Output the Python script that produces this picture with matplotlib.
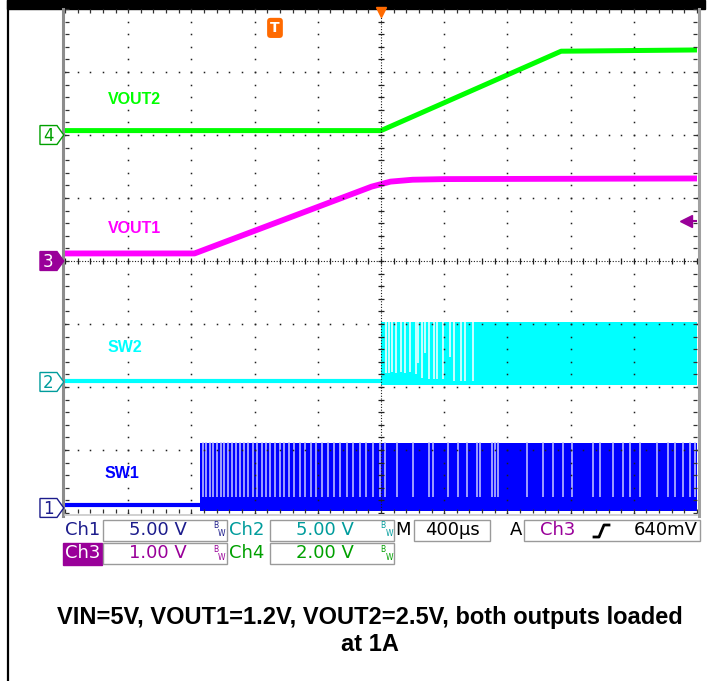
import numpy as np
import matplotlib.pyplot as plt
from matplotlib.patches import Rectangle, Polygon
from matplotlib.transforms import blended_transform_factory

# time in microseconds (400 us/div, trigger at 0), vertical in divisions
vout2_t = [-2000, 0, 1140, 2000]
vout2_v = [2.07, 2.07, 3.33, 3.35]

vout1_t = [-2000, -1180, -60, 60, 200, 400, 2000]
vout1_v = [0.12, 0.12, 1.18, 1.26, 1.29, 1.30, 1.31]

sw2_idle = -1.90
sw2_start = 0
sw2_low, sw2_high = -1.97, -0.97
sw2_gap_t = [32, 53, 72, 93, 127, 152, 184, 220, 236, 258, 278, 304, 335,
             356, 390, 437, 464, 504, 532, 580]
sw2_gap_bot = [-1.78, -1.78, -1.76, -1.78, -1.76, -1.78, -1.76, -1.80, -1.62,
               -1.85, -1.46, -1.88, -1.88, -1.88, -1.88, -1.52, -1.90, -1.90,
               -1.90, -1.90]

sw1_idle = -3.87
sw1_start = -1146
sw1_low, sw1_high = -3.97, -2.89
sw1_gap_t = [-1127, -1108, -1082, -1063, -1038, -1013, -994, -968, -943, -918,
             -893, -867, -842, -810, -785, -753, -728, -703, -671, -639, -614,
             -582, -551, -513, -481, -443, -411, -373, -335, -298, -260, -215,
             -177, -133, -95, -51, -6, 25, 101, 203, 304, 329, 424, 487, 544,
             608, 627, 703, 722, 741, 924, 1025, 1089, 1152, 1209, 1342, 1386,
             1468, 1532, 1576, 1639, 1747, 1817, 1861, 1912, 1956, 1987]
sw1_gap_bot = -3.75

channels = ['1', '2', '3', '4']
ch_offsets = [-3.92, -1.92, 0.0, 2.0]
trace_colors = ['#0000ff', '#00ffff', '#ff00ff', '#00ff00']
ch_colors = ['#1c1c8c', '#009c9c', '#990099', '#00a000']

trace_names = ['SW1', 'SW2', 'VOUT1', 'VOUT2']
name_t = [-1750, -1728, -1728, -1728]
name_v = [-3.37, -1.38, 0.52, 2.56]

trig_t = -671
trig_level = 0.64

scale_ch = ['Ch1', 'Ch2', 'Ch3', 'Ch4']
scale_txt = ['5.00 V', '5.00 V', '1.00 V', '2.00 V']
timebase = '400µs'
trig_txt = '640mV'

W, H = 710, 681
fig = plt.figure(figsize=(W / 100, H / 100), dpi=100)

# background layer in pixel units
bg = fig.add_axes([0, 0, 1, 1])
bg.set_xlim(0, W)
bg.set_ylim(H, 0)
bg.axis('off')
bg.add_patch(Rectangle((7, 0), 698, 8.5, color='black'))
bg.plot([8, 8], [0, H], color='black', lw=1.6)

# scope screen
ax = fig.add_axes([65 / W, 168 / H, 632 / W, 504 / H])
ax.set_xlim(-2000, 2000)
ax.set_ylim(-4, 4)
ax.axis('off')

# traces
ax.plot(vout2_t, vout2_v, color=trace_colors[3], lw=3.6, zorder=3)
ax.plot(vout1_t, vout1_v, color=trace_colors[2], lw=4.2, zorder=3)

ax.plot([-2000, sw2_start], [sw2_idle, sw2_idle], color=trace_colors[1], lw=3, zorder=3)
ax.fill_between([sw2_start, 2000], sw2_low, sw2_high, color=trace_colors[1], lw=0, zorder=3)
ax.vlines(sw2_gap_t, sw2_gap_bot, sw2_high + 0.02, color='white', lw=1.1, zorder=3.5)

ax.plot([-2000, sw1_start], [sw1_idle, sw1_idle], color=trace_colors[0], lw=3, zorder=3)
ax.fill_between([sw1_start, 2000], sw1_low, sw1_high, color=trace_colors[0], lw=0, zorder=3)
ax.vlines(sw1_gap_t, sw1_gap_bot, sw1_high + 0.02, color='#c8c8ff', lw=1.1, zorder=3.5)

# dotted graticule
fine_x = np.linspace(-2000, 2000, 51)
fine_y = np.linspace(-4, 4, 41)
dot = dict(ls='none', marker='s', ms=1.1, mfc='#202020', mec='none', zorder=5, clip_on=False)
for x in np.arange(-1600, 2000, 400):
    if x != 0:
        ax.plot(np.full_like(fine_y, x), fine_y, **dot)
for y in range(-3, 4):
    if y != 0:
        ax.plot(fine_x, np.full_like(fine_x, y), **dot)
ax.plot([0, 0], [-4, 4], ls=(0, (1, 1.5)), lw=0.8, color='#202020', zorder=5)
ax.plot([-2000, 2000], [0, 0], ls=(0, (1, 1.5)), lw=0.8, color='#202020', zorder=5)
ax.plot(np.zeros_like(fine_y), fine_y, ls='none', marker='_', ms=5, mew=0.9, color='#202020', zorder=5)
ax.plot(fine_x, np.zeros_like(fine_x), ls='none', marker='|', ms=5, mew=0.9, color='#202020', zorder=5)
tk = dict(ls='none', ms=3, mew=0.9, color='#303030', zorder=5, clip_on=False)
ax.plot(fine_x, np.full_like(fine_x, 4), marker=3, **tk)
ax.plot(fine_x, np.full_like(fine_x, -4), marker=2, **tk)
ax.plot(np.full_like(fine_y, -2000), fine_y, marker=1, **tk)
ax.plot(np.full_like(fine_y, 2000), fine_y, marker=0, **tk)
ax.plot([-2012, -2012], [-4.05, 4], color='#8c8c8c', lw=2.2, clip_on=False, zorder=6)
ax.plot([2012, 2012], [-4.05, 4], color='#a0a0a0', lw=2.2, clip_on=False, zorder=6)
ax.plot([-2000, 2000], [-4.03, -4.03], color='#c8c8c8', lw=1.2, clip_on=False, zorder=6)

# trace names
for name, t, v, c in zip(trace_names, name_t, name_v, trace_colors):
    ax.text(t, v, name, color=c, fontsize=11.5, fontweight='bold', family='Liberation Sans',
            ha='left', va='center', zorder=6)

# channel ground markers
trans = blended_transform_factory(ax.transAxes, ax.transData)
x0, x1, tip, h = -0.0396, -0.0127, -0.002, 0.15
for ch, off, c in zip(channels, ch_offsets, ch_colors):
    filled = ch == '3'
    ax.add_patch(Polygon([[x0, off - h], [x1, off - h], [tip, off], [x1, off + h], [x0, off + h]],
                         closed=True, transform=trans, clip_on=False,
                         fc=c if filled else 'white', ec=c, lw=1, zorder=6))
    ax.text((x0 + x1) / 2, off - 0.01, ch, transform=trans, color='white' if filled else c,
            fontsize=12, ha='center', va='center', zorder=7)

# trigger markers
ax.text(trig_t, 3.70, 'T', color='white', fontsize=10, fontweight='bold', ha='center',
        va='center', zorder=7,
        bbox=dict(boxstyle='round,pad=0.22,rounding_size=0.25', fc='#ff6a00', ec='none'))
ax.plot(0, 3.95, marker='v', ms=7, color='#ff6a00', clip_on=False, zorder=7)
ax.plot(1930, trig_level, marker='<', ms=8, color='#990099', zorder=7)
ax.plot([1960, 2000], [trig_level, trig_level], color='#990099', lw=1.5, zorder=7)

# readout
fs = 13
box = dict(fc='white', ec='#9a9a9a', lw=1)
rows = [(530, 520), (553, 543)]
for i in range(4):
    yc, yt = rows[i // 2]
    col = i % 2
    c = ch_colors[i]
    lx = 65 + col * 164
    bx = 103 + col * 167
    if scale_ch[i] == 'Ch3':
        bg.add_patch(Rectangle((63, yt), 39, 22, color=c))
        bg.text(lx, yc, scale_ch[i], color='white', fontsize=fs, ha='left', va='center')
    else:
        bg.text(lx, yc, scale_ch[i], color=c, fontsize=fs, ha='left', va='center')
    bg.add_patch(Rectangle((bx, yt), 124, 21, **box))
    bg.text(bx + 55, yc, scale_txt[i], color=c, fontsize=fs, ha='center', va='center')
    bg.text(bx + 113, yc - 4, 'B', color=c, fontsize=5.5, ha='center', va='center')
    bg.text(bx + 119, yc + 4, 'W', color=c, fontsize=5.5, ha='center', va='center')

bg.text(395, 530, 'M', color='black', fontsize=fs, ha='left', va='center')
bg.add_patch(Rectangle((414, 520), 76, 21, **box))
bg.text(452, 530, timebase, color='black', fontsize=fs, ha='center', va='center')
bg.text(510, 530, 'A', color='black', fontsize=fs, ha='left', va='center')
bg.add_patch(Rectangle((524, 520), 176, 21, **box))
bg.text(540, 530, 'Ch3', color='#990099', fontsize=fs, ha='left', va='center')
bg.plot([594, 599, 604, 609], [537, 537, 525, 525], color='black', lw=2)
bg.text(698, 530, trig_txt, color='black', fontsize=fs, ha='right', va='center')

# caption
bg.text(370, 631, 'VIN=5V, VOUT1=1.2V, VOUT2=2.5V, both outputs loaded\nat 1A',
        color='black', fontsize=17, fontweight='bold', family='Liberation Sans',
        ha='center', va='center', multialignment='center', linespacing=1.2)

fig.savefig('out.png', dpi=100)
